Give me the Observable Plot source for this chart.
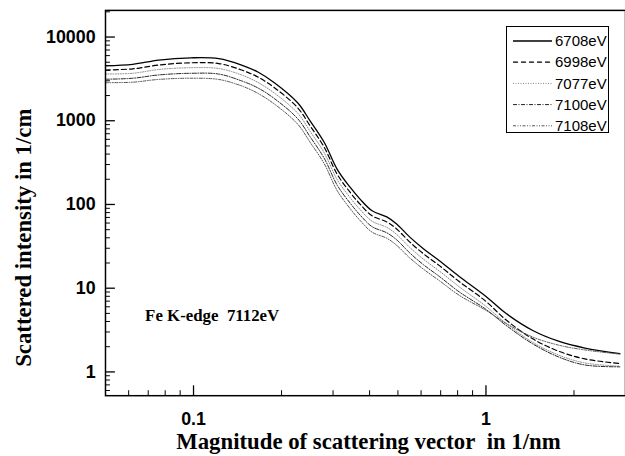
<!DOCTYPE html>
<html><head><meta charset="utf-8">
<script src="https://cdn.jsdelivr.net/npm/d3@7"></script>
<script src="https://cdn.jsdelivr.net/npm/@observablehq/plot@0.6"></script>
<style>
html,body{margin:0;padding:0;background:#fff;overflow:hidden;width:625px;height:456px;}
#wrap{position:relative;width:625px;height:456px;overflow:hidden;}
#legend{position:absolute;left:506px;top:26px;}
</style></head><body><div id="wrap"></div>
<script>
// scattering vector q (1/nm)
const q = [0.05, 0.062, 0.076, 0.098, 0.122, 0.146, 0.166, 0.19, 0.227, 0.251, 0.28, 0.31, 0.343, 0.371, 0.408, 0.458, 0.495, 0.548, 0.611, 0.693, 0.81, 1.0, 1.17, 1.44, 1.77, 2.18, 2.87];
// scattered intensity (1/cm) per energy
const I6708 = [4540, 4720, 5310, 5650, 5530, 4630, 3820, 2810, 1640, 984, 550, 263, 161, 116, 84, 71, 58.5, 41, 29.6, 21.3, 13.8, 7.97, 5.01, 3.15, 2.33, 1.93, 1.65];
const I6998 = [4036, 4172, 4630, 4927, 4822, 4037, 3331, 2450, 1430, 858, 480, 229, 140, 101, 73.2, 61.9, 51.0, 35.8, 25.8, 18.6, 12.0, 6.95, 4.19, 2.50, 1.77, 1.43, 1.26];
const I7077 = [3618, 3691, 4094, 4300, 4208, 3523, 2869, 2110, 1232, 739, 413, 198, 121, 87.1, 63.1, 53.3, 43.9, 30.8, 22.2, 16.0, 10.4, 6.07, 3.81, 2.27, 1.59, 1.28, 1.17];
const I7100 = [3133, 3219, 3526, 3689, 3611, 2991, 2468, 1815, 1059, 636, 355, 170, 104, 74.9, 54.3, 45.9, 37.8, 26.5, 19.1, 13.8, 9.04, 5.59, 3.61, 2.18, 1.51, 1.21, 1.15];
const I7108 = [2851, 2889, 3117, 3221, 3113, 2607, 2124, 1562, 912, 547, 306, 146, 89.5, 64.5, 46.7, 39.5, 32.5, 23.1, 16.9, 12.3, 8.22, 5.44, 3.81, 2.62, 2.09, 1.83, 1.63];

const energies = ["6708eV", "6998eV", "7077eV", "7100eV", "7108eV"];
const seriesValues = [I6708, I6998, I7077, I7100, I7108];

const yTickValues = [1, 10, 100, 1000, 10000];
const yTickLabels = ["1", "10", "100", "1000", "10000"];
const xTickValues = [0.1, 1];
const xTickLabels = ["0.1", "1"];
const xMinorTicks = [0.06, 0.07, 0.08, 0.09, 0.2, 0.3, 0.4, 0.5, 0.6, 0.7, 0.8, 0.9, 2];
const yMinorTicks = [0.6, 0.7, 0.8, 0.9,
  2, 3, 4, 5, 6, 7, 8, 9,
  20, 30, 40, 50, 60, 70, 80, 90,
  200, 300, 400, 500, 600, 700, 800, 900,
  2000, 3000, 4000, 5000, 6000, 7000, 8000, 9000, 20000];

const xTitle = "Magnitude of scattering vector\u00a0 in 1/nm";
const yTitle = "Scattered intensity in 1/cm";
const note = "Fe K-edge\u00a0 7112eV";

const lineStyles = [
  {stroke: "#000", strokeWidth: 1.3, strokeDasharray: null},
  {stroke: "#000", strokeWidth: 1.2, strokeDasharray: "5,3"},
  {stroke: "#888", strokeWidth: 1, strokeDasharray: "1,1.5"},
  {stroke: "#222", strokeWidth: 1, strokeDasharray: "4,1.5,1,1.5"},
  {stroke: "#555", strokeWidth: 1, strokeDasharray: "3,1.5,1,1.5,1,1.5"}
];

const W = 631, H = 456, mL = 106, mR = 0, mT = 10, mB = 57;
const fw = W - mL - mR, fh = H - mT - mB;

const rows = energies.map((e, k) => q.map((qq, i) => ({q: qq, I: seriesValues[k][i], e})));

const tickFont = {fontFamily: "'Liberation Sans', Arial, sans-serif", fontWeight: "bold", fontSize: 18, fill: "#000"};
const titleFont = {fontFamily: "'Liberation Serif', 'Times New Roman', serif", fontWeight: "bold", fontSize: 23, fill: "#000"};

const chart = Plot.plot({
  width: W, height: H,
  marginLeft: mL, marginRight: mR, marginTop: mT, marginBottom: mB,
  style: {background: "#fff", overflow: "visible"},
  x: {type: "log", domain: [0.05, 3], axis: null},
  y: {type: "log", domain: [0.52, 20800], axis: null},
  marks: [
    ...rows.map((r, k) => Plot.line(r, {x: "q", y: "I", curve: "catmull-rom", ...lineStyles[k]})),
    Plot.frame({stroke: "#000", strokeWidth: 1.5}),
    Plot.tickY(yMinorTicks, {y: d => d, insetRight: fw - 5, stroke: "#000", strokeWidth: 1}),
    Plot.tickY(yTickValues, {y: d => d, insetRight: fw - 10, stroke: "#000", strokeWidth: 1.3}),
    Plot.tickX(xMinorTicks, {x: d => d, insetTop: fh - 5, stroke: "#000", strokeWidth: 1}),
    Plot.tickX(xTickValues, {x: d => d, insetTop: fh - 10, stroke: "#000", strokeWidth: 1.3}),
    Plot.text(yTickValues, {y: d => d, text: (d, i) => yTickLabels[i], frameAnchor: "left", textAnchor: "end", dx: -10, ...tickFont}),
    Plot.text(xTickValues, {x: d => d, text: (d, i) => xTickLabels[i], frameAnchor: "bottom", lineAnchor: "middle", dy: 24, ...tickFont}),
    Plot.text([xTitle], {text: d => d, frameAnchor: "bottom", textAnchor: "middle", lineAnchor: "middle", dy: 46, dx: 3, ...titleFont}),
    Plot.text([yTitle], {text: d => d, frameAnchor: "left", textAnchor: "middle", rotate: -90, lineAnchor: "middle", dx: -83, dy: 35, ...titleFont}),
    Plot.text([note], {text: d => d, frameAnchor: "top-left", textAnchor: "start", lineAnchor: "middle", dx: 40, dy: 308, fontFamily: "'Liberation Serif', 'Times New Roman', serif", fontWeight: "bold", fontSize: 17, fill: "#000"})
  ]
});
const wrap = document.getElementById("wrap");
wrap.appendChild(chart);

// legend
const lg = d3.select(wrap).append("svg").attr("id", "legend").attr("width", 104).attr("height", 108);
lg.append("rect").attr("x", 0.5).attr("y", 0.5).attr("width", 102).attr("height", 106).attr("fill", "#fff").attr("stroke", "#000").attr("stroke-width", 1);
energies.forEach((e, k) => {
  const cy = 15 + k * 21.2;
  const s = lineStyles[k];
  lg.append("line").attr("x1", 7).attr("x2", 46).attr("y1", cy).attr("y2", cy)
    .attr("stroke", s.stroke).attr("stroke-width", s.strokeWidth)
    .attr("stroke-dasharray", s.strokeDasharray);
  lg.append("text").attr("x", 49).attr("y", cy).attr("dy", "0.35em")
    .attr("font-family", "'Liberation Sans', Arial, sans-serif").attr("font-size", 15).text(e);
});
</script>
</body></html>
